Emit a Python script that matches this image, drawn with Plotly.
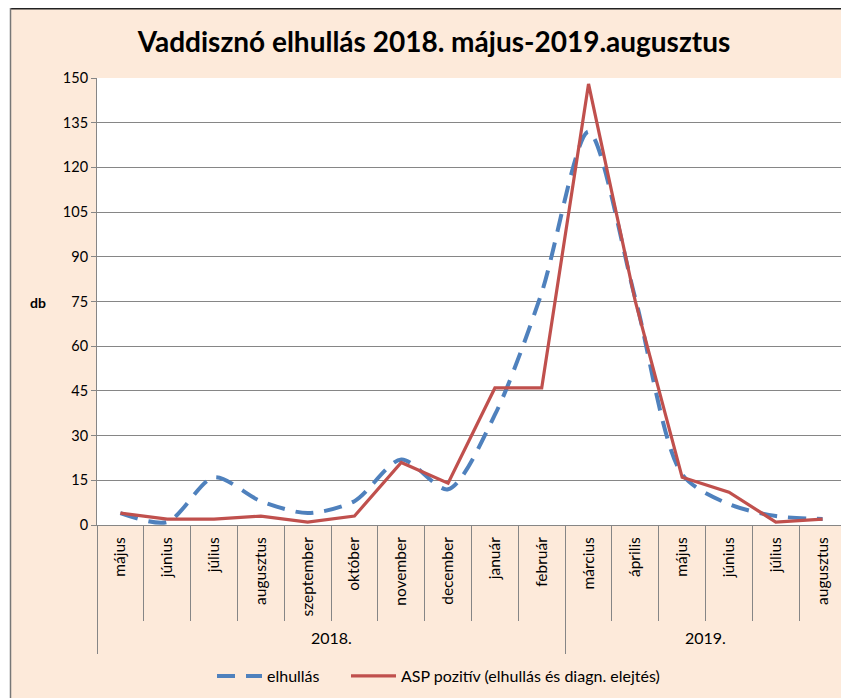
import plotly.graph_objects as go

# ---- data ----
months = ["május", "június", "július", "augusztus", "szeptember", "október",
          "november", "december", "január", "február", "március", "április",
          "május", "június", "július", "augusztus"]
years = ["2018.", "2019."]
year_month_counts = [10, 6]
elhullas = [4, 1, 16, 8, 4, 8, 22, 12, 37, 78, 132, 76, 17, 7, 3, 2]
asp_pozitiv = [4, 2, 2, 3, 1, 3, 21, 14, 46, 46, 148, 75, 16, 11, 1, 2]
y_ticks = list(range(0, 151, 15))

FONT = "Lato"
GRID = "#868686"
BG = "#FDEADA"

x_idx = list(range(len(months)))
n = len(months)

# boundaries between categories / years
inner_bounds = []
long_bounds = [-0.5]
acc = 0
for c in year_month_counts:
    for k in range(1, c):
        inner_bounds.append(acc + k - 0.5)
    acc += c
    long_bounds.append(acc - 0.5)

year_centers = []
acc = 0
for c in year_month_counts:
    year_centers.append(acc + (c - 1) / 2)
    acc += c

fig = go.Figure()
fig.add_trace(go.Scatter(
    x=x_idx, y=elhullas, name="elhullás", mode="lines", legend="legend",
    line=dict(color="#4F81BD", width=4, dash="18px,11px", shape="spline", smoothing=0.8),
    hoverinfo="skip"))
fig.add_trace(go.Scatter(
    x=x_idx, y=asp_pozitiv, name="ASP pozitív (elhullás és diagn. elejtés)", mode="lines",
    legend="legend2",
    line=dict(color="#C0504D", width=3.2),
    hoverinfo="skip"))
fig.add_trace(go.Scatter(x=[], y=[], xaxis="x2", showlegend=False, hoverinfo="skip"))
fig.add_trace(go.Scatter(x=[], y=[], xaxis="x3", showlegend=False, hoverinfo="skip"))

# page has an 8px body margin; figure sized so its right/bottom meet the window
OFF = 8
W, H = 849 - OFF, 698 - OFF
L, R, T, B = 97 - OFF, 3, 78 - OFF, 173
pw = W - L - R
ph = H - T - B

def px_x(p):  # p: x pixel in the window
    return (p - OFF - L) / pw

def px_y(p):  # p: y pixel in the window
    return (H - B - (p - OFF)) / ph

legend_style = dict(orientation="h", xanchor="left", y=px_y(676), yanchor="middle",
                    bgcolor="rgba(0,0,0,0)", itemwidth=45,
                    font=dict(family=FONT, size=16, color="black"))

xr = [-0.5, n - 0.5]
fig.update_layout(
    width=W, height=H,
    margin=dict(l=L, r=R, t=T, b=B),
    paper_bgcolor=BG, plot_bgcolor="white",
    font=dict(family=FONT, color="black", size=14),
    title=dict(text="<b>Vaddisznó elhullás 2018. május-2019.augusztus</b>",
               x=(434 - OFF) / W, xanchor="center", y=1 - (42 - OFF) / H, yanchor="middle",
               font=dict(family=FONT, size=28, color="black")),
    xaxis=dict(range=xr, tickmode="array", tickvals=x_idx, ticktext=months,
               tickangle=-90, ticks="", showgrid=False, zeroline=False,
               showline=True, linecolor=GRID, linewidth=1,
               tickfont=dict(family=FONT, size=15.5, color="black"),
               ticklabelstandoff=5),
    xaxis2=dict(range=xr, overlaying="x", anchor="y", side="bottom",
                tickmode="array", tickvals=inner_bounds, ticks="outside",
                ticklen=95, tickcolor=GRID, tickwidth=1, showticklabels=False,
                showgrid=False, zeroline=False, showline=False),
    xaxis3=dict(range=xr, overlaying="x", anchor="y", side="bottom",
                tickmode="array", tickvals=long_bounds, ticks="outside",
                ticklen=128, tickcolor=GRID, tickwidth=1, showticklabels=False,
                showgrid=False, zeroline=False, showline=False),
    yaxis=dict(range=[0, 150], tickmode="array", tickvals=y_ticks,
               ticks="outside", ticklen=5, tickcolor=GRID,
               showline=True, linecolor=GRID, linewidth=1,
               showgrid=True, gridcolor=GRID, gridwidth=1, zeroline=False,
               tickfont=dict(family=FONT, size=14.5, color="black")),
    showlegend=True,
    legend=dict(x=px_x(212), **legend_style),
    legend2=dict(x=px_x(346), **legend_style),
)

for yl, xc in zip(years, year_centers):
    fig.add_annotation(x=xc, xref="x", y=px_y(637), yref="paper", text=yl,
                       showarrow=False, font=dict(family=FONT, size=16, color="black"),
                       xanchor="center", yanchor="middle")

fig.add_annotation(x=px_x(38), xref="paper", y=px_y(302), yref="paper", text="<b>db</b>",
                   showarrow=False, font=dict(family=FONT, size=14, color="black"),
                   xanchor="center", yanchor="middle")

# outer chart border (top and left), white outside it
fig.add_shape(type="rect", xref="paper", yref="paper", x0=px_x(0), x1=px_x(10),
              y0=px_y(710), y1=px_y(0), fillcolor="white", line=dict(width=0), layer="above")
fig.add_shape(type="line", xref="paper", yref="paper", x0=px_x(10), x1=px_x(860),
              y0=px_y(8.7), y1=px_y(8.7), line=dict(color="#222222", width=1.5))
fig.add_shape(type="line", xref="paper", yref="paper", x0=px_x(10.5), x1=px_x(10.5),
              y0=px_y(8), y1=px_y(710), line=dict(color="#777777", width=1.5))

fig.write_html("out.html")
